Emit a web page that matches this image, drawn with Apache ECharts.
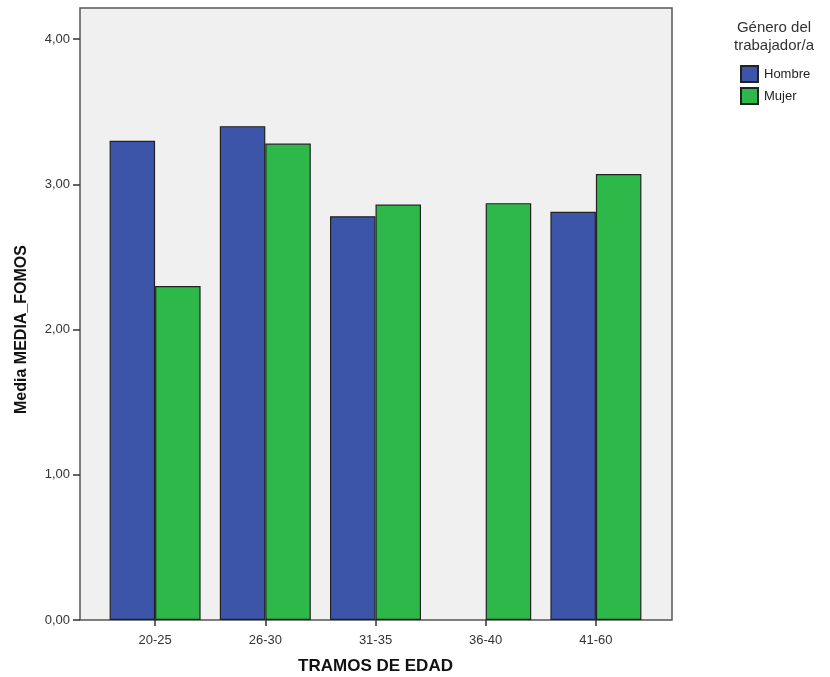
<!DOCTYPE html>
<html>
<head>
<meta charset="utf-8">
<script src="https://cdn.jsdelivr.net/npm/echarts@6/dist/echarts.min.js"></script>
<style>html,body{margin:0;padding:0;background:#fff}#c{width:830px;height:677px}</style>
</head>
<body>
<div id="c"></div>
<script>
const categories = ['20-25', '26-30', '31-35', '36-40', '41-60'];
const hombre = [3.30, 3.40, 2.78, null, 2.81];
const mujer = [2.30, 3.28, 2.86, 2.87, 3.07];
const seriesNames = ['Hombre', 'Mujer'];
const legendTitle = 'Género del\ntrabajador/a';
const yTitle = 'Media MEDIA_FOMOS';
const xTitle = 'TRAMOS DE EDAD';

const FONT = '"Liberation Sans", Arial, sans-serif';
const chart = echarts.init(document.getElementById('c'));
chart.setOption({
  animation: false,
  textStyle: { fontFamily: FONT },
  title: {
    text: legendTitle, left: 774, top: 19, textAlign: 'center', padding: 0,
    textStyle: { fontSize: 15, fontWeight: 'normal', color: '#333', lineHeight: 18, fontFamily: FONT }
  },
  legend: {
    orient: 'vertical', left: 740, top: 65, padding: 0, itemWidth: 17, itemHeight: 16, itemGap: 4,
    icon: 'rect', data: seriesNames,
    textStyle: { fontSize: 13, color: '#222', padding: [0, 0, 0, 1], fontFamily: FONT }
  },
  grid: [
    { left: 80, top: 8, width: 592, height: 612, show: true, backgroundColor: '#f0f0f0', borderColor: '#555', borderWidth: 1.5, z: 0, outerBoundsMode: 'none', containLabel: false },
    { left: 100, top: 39, width: 551, height: 581, outerBoundsMode: 'none', containLabel: false }
  ],
  xAxis: [
    { gridIndex: 0, type: 'value', show: false, min: 0, max: 1 },
    {
      gridIndex: 1, type: 'category', data: categories, boundaryGap: true,
      axisLine: { show: false },
      axisTick: { show: true, alignWithLabel: true, length: 6, lineStyle: { color: '#333', width: 1.5 } },
      axisLabel: { color: '#333', fontSize: 13, margin: 14, fontFamily: FONT },
      name: xTitle, nameLocation: 'middle', nameGap: 38,
      nameTextStyle: { fontSize: 17, fontWeight: 'bold', color: '#111', fontFamily: FONT }
    }
  ],
  yAxis: [
    { gridIndex: 0, type: 'value', show: false, min: 0, max: 1 },
    {
      gridIndex: 1, type: 'value', min: 0, max: 4, interval: 1, offset: 20,
      axisLine: { show: false },
      splitLine: { show: false },
      axisTick: { show: true, length: 7, lineStyle: { color: '#333', width: 1.5 } },
      axisLabel: { color: '#333', fontSize: 13, margin: 10, fontFamily: FONT,
        formatter: v => v.toFixed(2).replace('.', ',') },
      name: yTitle, nameLocation: 'middle', nameGap: 50, nameRotate: 90,
      nameTextStyle: { fontSize: 16, fontWeight: 'bold', color: '#111', fontFamily: FONT }
    }
  ],
  series: [
    { name: seriesNames[0], type: 'bar', xAxisIndex: 1, yAxisIndex: 1, data: hombre, barWidth: 45.5, barGap: '0%',
      itemStyle: { color: '#3d55a8', borderColor: '#222', borderWidth: 1.2 } },
    { name: seriesNames[1], type: 'bar', xAxisIndex: 1, yAxisIndex: 1, data: mujer, barWidth: 45.5, barGap: '0%',
      itemStyle: { color: '#2eb84a', borderColor: '#222', borderWidth: 1.2 } }
  ]
});
</script>
</body>
</html>
